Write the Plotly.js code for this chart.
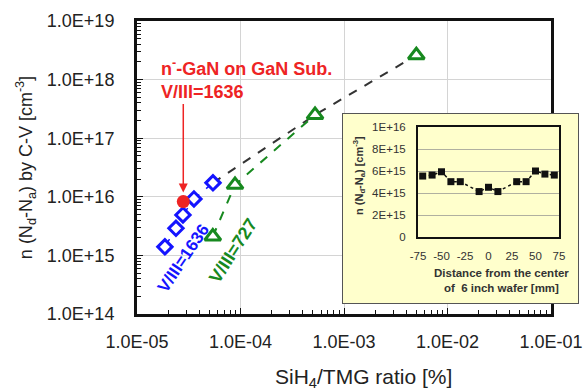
<!DOCTYPE html>
<html>
<head>
<meta charset="utf-8">
<script src="https://cdn.plot.ly/plotly-3.0.1.min.js"></script>
<style>html,body{margin:0;padding:0;background:#fff;}#chart{width:585px;height:392px;}</style>
</head>
<body>
<div id="chart"></div>
<script>
// ---- Main chart data ----
const blueX = [1.86e-5, 2.38e-5, 2.78e-5, 3.55e-5, 5.42e-5];   // V/III=1636
const blueY = [1.4e15, 2.9e15, 4.9e15, 9.2e15, 1.73e16];
const greenX = [5.4e-5, 8.85e-5, 5.25e-4, 5.0e-3];               // V/III=727 and higher
const greenY = [2.1e15, 1.6e16, 2.5e17, 2.6e18];
const redX = [2.8e-5];                                            // n- GaN on GaN sub.
const redY = [8.3e15];
const xTickVals = [1e-5, 1e-4, 1e-3, 1e-2, 1e-1];
const xTickText = ['1.0E-05', '1.0E-04', '1.0E-03', '1.0E-02', '1.0E-01'];
const yTickVals = [1e14, 1e15, 1e16, 1e17, 1e18, 1e19];
const yTickText = ['1.0E+14', '1.0E+15', '1.0E+16', '1.0E+17', '1.0E+18', '1.0E+19'];

// ---- Inset data ----
const insetX = [-70, -60, -50, -40, -30, -10, 0, 10, 30, 40, 50, 60, 70];
const insetY = [5.54e15, 5.63e15, 5.93e15, 5.03e15, 5.03e15, 4.13e15, 4.52e15, 4.13e15, 5.03e15, 5.03e15, 6.0e15, 5.72e15, 5.63e15];
const insetXTicks = [-75, -50, -25, 0, 25, 50, 75];
const insetXText = ['-75', '-50', '-25', '0', '25', '50', '75'];
const insetYTicks = [0, 2e15, 4e15, 6e15, 8e15, 1e16];
const insetYText = ['0', '2E+15', '4E+15', '6E+15', '8E+15', '1E+16'];

const BLUE = '#1414ff', GREEN = '#17891f', RED = '#ee2424';
const FONT = 'Liberation Sans, Arial, sans-serif';

// minor log tick positions (2..9 in each decade) for axis decoration
function minorLog(decades) {
  const out = [];
  decades.forEach(d => { for (let m = 2; m <= 9; m++) out.push(m * d); });
  return out;
}
const xMinor = minorLog(xTickVals.slice(0, -1));
const yMinor = minorLog(yTickVals.slice(0, -1));

// trend line through the highest-ratio points
const trendX = [blueX[blueX.length - 1], greenX[2], greenX[3]];
const trendY = [blueY[blueY.length - 1], greenY[2], greenY[3]];

const traces = [
  {x: trendX, y: trendY, mode: 'lines', line: {color: '#333', width: 2, dash: 'dash'}, hoverinfo: 'skip', xaxis: 'x', yaxis: 'y'},
  {x: greenX.slice(0, 3), y: greenY.slice(0, 3), mode: 'lines', line: {color: GREEN, width: 2, dash: 'dash'}, hoverinfo: 'skip', xaxis: 'x', yaxis: 'y'},
  {x: blueX, y: blueY, mode: 'lines+markers', line: {color: BLUE, width: 1.5, dash: 'dash'},
   marker: {symbol: 'diamond', size: 11, color: '#fff', line: {color: BLUE, width: 3}}, xaxis: 'x', yaxis: 'y'},
  {x: greenX, y: greenY, mode: 'markers',
   marker: {symbol: 'triangle-up', size: 14, color: '#fff', line: {color: GREEN, width: 3}}, xaxis: 'x', yaxis: 'y'},
  {x: redX, y: redY, mode: 'markers', marker: {symbol: 'circle', size: 13, color: RED}, xaxis: 'x', yaxis: 'y'},
  // inset box subplot (empty)
  {x: [], y: [], mode: 'markers', xaxis: 'x2', yaxis: 'y2', hoverinfo: 'skip'},
  // inset profile
  {x: insetX, y: insetY, mode: 'lines+markers', line: {color: '#111', width: 1.5, dash: 'dot'},
   marker: {symbol: 'square', size: 7, color: '#111'}, xaxis: 'x3', yaxis: 'y3'}
];

// geometry helpers (paper coords); plot area: left 137, right 580, top 21, bottom 314
const L = 137, R = 580, T = 21, B = 314;
const px = v => (v - L) / (R - L);
const py = v => (B - v) / (B - T);

const layout = {
  width: 585, height: 392,
  margin: {l: L, r: 585 - R, t: T, b: 392 - B},
  paper_bgcolor: '#fff', plot_bgcolor: 'rgba(0,0,0,0)',
  showlegend: false,
  font: {family: FONT, color: '#222'},
  xaxis: {
    type: 'log', range: [-5, -1], domain: [0, px(551)], anchor: 'y',
    tickmode: 'array', tickvals: xTickVals, ticktext: xTickText,
    tickfont: {size: 18, color: '#222'}, ticklabelstandoff: 9,
    ticks: 'inside', ticklen: 6, tickcolor: '#111',
    minor: {tickmode: 'array', tickvals: xMinor, ticks: 'inside', ticklen: 4, tickcolor: '#111', showgrid: false},
    showline: true, mirror: true, linecolor: '#111', linewidth: 3,
    showgrid: true, gridcolor: '#d4d4d4', gridwidth: 1, zeroline: false
  },
  yaxis: {
    type: 'log', range: [14, 19], domain: [0, 1], anchor: 'x',
    tickmode: 'array', tickvals: yTickVals, ticktext: yTickText,
    tickfont: {size: 18, color: '#222'}, ticklabelstandoff: 16,
    ticks: 'inside', ticklen: 6, tickcolor: '#111',
    minor: {tickmode: 'array', tickvals: yMinor, ticks: 'inside', ticklen: 4, tickcolor: '#111', showgrid: false},
    showline: true, mirror: true, linecolor: '#111', linewidth: 3,
    showgrid: true, gridcolor: '#d4d4d4', gridwidth: 1, zeroline: false,
    title: {text: 'n (N<sub>d</sub>-N<sub>a</sub>) by C-V [cm<sup>-3</sup>]', font: {size: 18, color: '#222'}, standoff: 10}
  },
  xaxis2: {domain: [px(343), px(578)], anchor: 'y2', range: [0, 1], showline: true, mirror: true, linecolor: '#555', linewidth: 1,
           showgrid: false, zeroline: false, showticklabels: false, ticks: '', fixedrange: true},
  yaxis2: {domain: [py(303), py(114)], anchor: 'x2', range: [0, 1], showline: true, mirror: true, linecolor: '#555', linewidth: 1,
           showgrid: false, zeroline: false, showticklabels: false, ticks: '', fixedrange: true},
  xaxis3: {domain: [px(418), px(559)], anchor: 'y3', range: [-75, 75],
           tickmode: 'array', tickvals: insetXTicks, ticktext: insetXText, tickfont: {size: 11.5, color: '#333'}, ticklabelstandoff: 7,
           showline: true, mirror: true, linecolor: '#111', linewidth: 2, showgrid: false, zeroline: false, ticks: ''},
  yaxis3: {domain: [py(237), py(127)], anchor: 'x3', range: [0, 1e16],
           tickmode: 'array', tickvals: insetYTicks, ticktext: insetYText, tickfont: {size: 11.5, color: '#333'}, ticklabelstandoff: 8,
           showline: true, mirror: true, linecolor: '#111', linewidth: 2, showgrid: true, gridcolor: '#b0b0a0', gridwidth: 1,
           zeroline: false, ticks: ''},
  shapes: [
    {type: 'rect', xref: 'x2', yref: 'y2', x0: 0, x1: 1, y0: 0, y1: 1, fillcolor: '#ffffcc', line: {width: 0}, layer: 'below'}
  ],
  annotations: [
    {text: 'SiH<sub>4</sub>/TMG ratio [%]', xref: 'paper', yref: 'paper', x: px(363), y: py(378),
     showarrow: false, font: {size: 21, color: '#222'}, xanchor: 'center', yanchor: 'middle'},
    {text: '<b>n<sup>-</sup>-GaN on GaN Sub.<br>V/III=1636</b>', xref: 'x', yref: 'y',
     x: -5 + (159 - 137) / 103.5, y: 14 + (314 - 79) / 58.6, showarrow: false, align: 'left',
     xanchor: 'left', yanchor: 'middle', font: {size: 18, color: RED}},
    {text: '', xref: 'x', yref: 'y', x: Math.log10(redX[0]), y: Math.log10(redY[0]),
     showarrow: true, ax: 0, ay: -99, arrowcolor: RED, arrowwidth: 1.5, arrowhead: 2, arrowsize: 1.2, standoff: 9},
    {text: '<b>V/III=1636</b>', xref: 'x', yref: 'y', x: -5 + (183 - 137) / 103.5, y: 14 + (314 - 258) / 58.6,
     showarrow: false, textangle: -56, xanchor: 'center', yanchor: 'middle', font: {size: 17, color: BLUE}},
    {text: '<b>V/III=727</b>', xref: 'x', yref: 'y', x: -5 + (233 - 137) / 103.5, y: 14 + (314 - 251) / 58.6,
     showarrow: false, textangle: -57, xanchor: 'center', yanchor: 'middle', font: {size: 18, color: GREEN}},
    {text: '<b>n (N<sub>d</sub>-N<sub>a</sub>) [cm<sup>-3</sup>]</b>', xref: 'paper', yref: 'paper', x: px(359), y: py(176),
     showarrow: false, textangle: -90, xanchor: 'center', yanchor: 'middle', font: {size: 11, color: '#333'}},
    {text: '<b>Distance from the center<br>of  6 inch wafer [mm]</b>', xref: 'paper', yref: 'paper', x: px(501), y: py(280),
     showarrow: false, align: 'center', xanchor: 'center', yanchor: 'middle', font: {size: 11.5, color: '#333'}}
  ]
};

Plotly.newPlot('chart', traces, layout, {displayModeBar: false, staticPlot: true});
</script>
</body>
</html>
